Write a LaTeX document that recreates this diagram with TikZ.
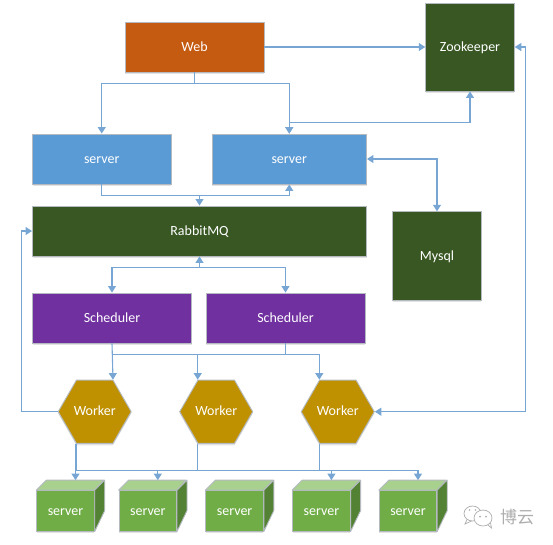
\documentclass[tikz,border=0pt]{standalone}
\usepackage{fontspec}
\setmainfont{Carlito}
\newfontfamily\cjk{Noto Sans CJK SC}
\usetikzlibrary{arrows.meta,calc,shapes.geometric,shadows}
\definecolor{cweb}{HTML}{C55A11}
\definecolor{cblue}{HTML}{5B9BD5}
\definecolor{cdark}{HTML}{385723}
\definecolor{cpurple}{HTML}{7030A0}
\definecolor{cgold}{HTML}{BF9000}
\definecolor{cgreen}{HTML}{70AD47}
\definecolor{ctop}{HTML}{A9D18E}
\definecolor{cside}{HTML}{548235}
\definecolor{cedge}{HTML}{B4BAC0}
\definecolor{cline}{HTML}{77A6D4}
\definecolor{cmark}{HTML}{ADADAD}
\tikzset{
  softshadow/.style={drop shadow={shadow xshift=0pt,shadow yshift=-2pt,fill=black!45,opacity=.25}},
  block/.style={draw=cedge,line width=.9pt,text=white,font=\fontsize{14}{15}\selectfont,inner sep=0pt,text height=9.5pt,text depth=1pt,softshadow},
  hexa/.style={block,regular polygon,regular polygon sides=6,minimum size=73pt,fill=cgold},
  cubefront/.style={block,fill=cgreen,minimum width=57.5pt,minimum height=40.5pt},
  cubeface/.style={draw=cedge,line width=.9pt,line join=round},
  link/.style={draw=cline,line width=1.1pt,-{Triangle[length=6.5pt,width=8pt]}},
  link2/.style={draw=cline,line width=1.1pt,{Triangle[length=6.5pt,width=8pt]}-{Triangle[length=6.5pt,width=8pt]}},
  plain/.style={draw=cline,line width=1.1pt}
}
\begin{document}
\begin{tikzpicture}[x=1pt,y=-1pt]
\useasboundingbox (0,0) rectangle (553,544);
% boxes
\node[block,fill=cweb,minimum width=139pt,minimum height=50pt] (web) at (194.5,47) {Web};
\node[block,fill=cdark,minimum width=88.6pt,minimum height=88pt] (zk) at (470,47) {Zookeeper};
\node[block,fill=cblue,minimum width=138.5pt,minimum height=50pt] (s1) at (101.75,159) {server};
\node[block,fill=cblue,minimum width=154.5pt,minimum height=50pt] (s2) at (289.25,159) {server};
\node[block,fill=cdark,minimum width=334pt,minimum height=50pt] (mq) at (199.5,231) {RabbitMQ};
\node[block,fill=cdark,minimum width=88.6pt,minimum height=88.5pt] (db) at (437,256) {Mysql};
\node[block,fill=cpurple,minimum width=159pt,minimum height=50pt] (sch1) at (112,318) {Scheduler};
\node[block,fill=cpurple,minimum width=159pt,minimum height=50pt] (sch2) at (285.5,318) {Scheduler};
\node[hexa] (w1) at (94.7,411.7) {Worker};
\node[hexa] (w2) at (216.2,411.7) {Worker};
\node[hexa] (w3) at (337.8,411.7) {Worker};
% cubes
\foreach \n/\cx in {c1/65.5,c2/147.8,c3/234.6,c4/321.4,c5/408}{
  \node[cubefront] (\n) at (\cx,510.8) {server};
  \fill[ctop,cubeface] (\n.north west) -- ++(10,-10) -- ++(57.5,0) -- (\n.north east) -- cycle;
  \fill[cside,cubeface] (\n.north east) -- ++(10,-10) -- ++(0,30.5) -- (\n.south east) -- cycle;
}
% connectors
\draw[link] (web.south) -- ++(0,11) -| (s1.north);
\draw[link] (web.south) -- ++(0,11) -| (s2.north);
\draw[link] (web.east) -- (zk.west);
\draw[link2] (s2.north) -- ++(0,-11) -| (zk.south);
\draw[link] (s1.south) -- ++(0,11) -| (mq.north);
\draw[link] (s1.south) -- ++(0,11) -| (s2.south);
\draw[link2] (s2.east) -| (db.north);
\draw[link2] (mq.south) -- ++(0,11) -| (sch1.north);
\draw[link] (mq.south) ++(0,11) -| (sch2.north);
\draw[link] (sch1.south) -- ([xshift=18.3pt]w1.north);
\draw[link] (sch1.south) ++(0,11) -| ([xshift=-18.5pt]w2.north);
\draw[link] (sch1.south) ++(0,11) -| ([xshift=-18.5pt]w3.north);
\draw[plain] (sch2.south) -- ++(0,11);
\draw[link] (w1.west) -- ++(-36.3,0) |- (mq.west);
\draw[link2] (w3.east) -- ++(151,0) |- (zk.east);
\coordinate (busa) at ($(w1.south)+(-18.7,26.5)$);
\draw[plain] ([xshift=-18.7pt]w1.south) -- (busa);
\draw[plain] ([xshift=-18.5pt]w2.south) -- ++(0,26.5);
\draw[plain] ([xshift=-18.5pt]w3.south) -- ++(0,26.5);
\draw[link] (busa) -| ([xshift=10pt,yshift=10pt]c1.north);
\draw[link] (busa) -| ([xshift=10pt,yshift=10pt]c2.north);
\draw[link] (busa) -| ([xshift=10pt,yshift=10pt]c4.north);
\draw[link] (busa) -| ([xshift=10pt,yshift=10pt]c5.north);
% watermark
\begin{scope}[draw=cmark,line width=.7pt]
  \draw[fill=white] (472.5,513.5) ellipse (8.5 and 7.5);
  \draw (467,519.5) -- (465,524) -- (471.5,521);
  \draw[fill=white] (483,518) ellipse (9 and 8);
  \draw (488,525) -- (491.5,528) -- (490.5,523);
  \fill[cmark] (480,516.5) circle (1) (486,516.5) circle (1);
  \fill[cmark] (469.5,510) circle (.9) (475.5,510) circle (.9);
\end{scope}
\node[text=cmark,font=\cjk\fontsize{17}{17}\selectfont,inner sep=0pt] (mark) at (517,517) {博云};
\end{tikzpicture}
\end{document}
